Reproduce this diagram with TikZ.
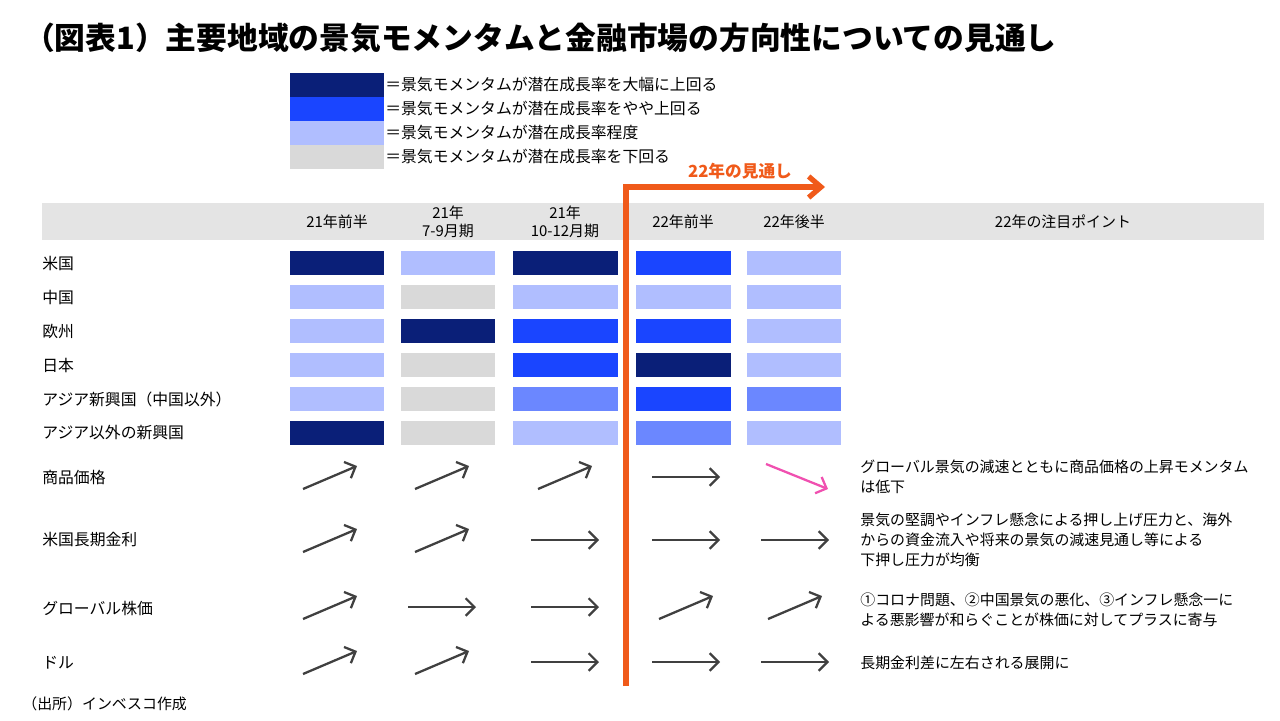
\documentclass[tikz,border=0pt]{standalone}
\usepackage{fontspec}
\setmainfont{Noto Sans CJK JP}
\usetikzlibrary{arrows.meta}
\definecolor{cdark}{HTML}{0A1F78}
\definecolor{cblue}{HTML}{1A45FF}
\definecolor{cmid}{HTML}{6B87FF}
\definecolor{clight}{HTML}{B0BEFF}
\definecolor{cgray}{HTML}{D9D9D9}
\definecolor{corange}{HTML}{F05A1A}
\definecolor{cpink}{HTML}{F050B0}
\definecolor{carrow}{HTML}{404040}
\tikzset{
  cell/.style={minimum height=0.48cm, inner sep=0pt},
  lab/.style={anchor=west, font=\fontsize{9}{11}\selectfont, inner sep=0pt},
  head/.style={align=center, font=\fontsize{8.5}{10}\selectfont},
  trend/.style={-{Straight Barb[length=5pt]}, line width=1.3pt, carrow}
}
\begin{document}
\begin{tikzpicture}[x=0.02cm, y=-0.02cm]
    \useasboundingbox (0,0) rectangle (1280,720);
    % Titolo
    \node[anchor=west, font=\fontsize{17.5}{20}\bfseries] (title) at (18,38) {（図表1）主要地域の景気モメンタムと金融市場の方向性についての見通し};

    % Legenda
    \foreach \c/\t [count=\i] in {cdark/大幅に上回る, cblue/やや上回る, clight/程度, cgray/下回る} {
        \node[cell, minimum width=1.88cm, fill=\c] (leg\i) at (337,61+24*\i) {};
    }
    \node[lab] (legt1) at (385,85) {＝景気モメンタムが潜在成長率を大幅に上回る};
    \node[lab] (legt2) at (385,109) {＝景気モメンタムが潜在成長率をやや上回る};
    \node[lab] (legt3) at (385,133) {＝景気モメンタムが潜在成長率程度};
    \node[lab] (legt4) at (385,157) {＝景気モメンタムが潜在成長率を下回る};

    % Intestazione
    \fill[cgray!70] (42,203) rectangle (1264,240);
    \node[head] (h1) at (337,222) {21年前半};
    \node[head] (h2) at (448,222) {21年\\7-9月期};
    \node[head] (h3) at (565,222) {21年\\10-12月期};
    \node[head] (h4) at (683,222) {22年前半};
    \node[head] (h5) at (794,222) {22年後半};
    \node[head] (h6) at (1063,222) {22年の注目ポイント};

    % Regioni
    \foreach \r/\t [count=\i] in {us/米国, cn/中国, eu/欧州, jp/日本, as/アジア新興国（中国以外）, em/アジア以外の新興国} {
        \node[lab] (row\r) at (42,229+34*\i) {\t};
    }
    \foreach \a/\b/\c/\d/\e [count=\i] in {
        cdark/clight/cdark/cblue/clight,
        clight/cgray/clight/clight/clight,
        clight/cdark/cblue/cblue/clight,
        clight/cgray/cblue/cdark/clight,
        clight/cgray/cmid/cblue/cmid,
        cdark/cgray/clight/cmid/clight} {
        \node[cell, minimum width=1.88cm, fill=\a] (c\i a) at (337,229+34*\i) {};
        \node[cell, minimum width=1.88cm, fill=\b] (c\i b) at (448,229+34*\i) {};
        \node[cell, minimum width=2.1cm, fill=\c] (c\i c) at (565,229+34*\i) {};
        \node[cell, minimum width=1.9cm, fill=\d] (c\i d) at (683,229+34*\i) {};
        \node[cell, minimum width=1.88cm, fill=\e] (c\i e) at (794,229+34*\i) {};
    }

    % Mercati
    \node[lab] (rowcom) at (42,477) {商品価格};
    \node[lab] (rowrate) at (42,540) {米国長期金利};
    \node[lab] (rowstock) at (42,608) {グローバル株価};
    \node[lab] (rowusd) at (42,663) {ドル};
    \foreach \y [count=\j] in {477,540,607,662} {
        \foreach \x [count=\i] in {330,442,565,686,795} {
            \coordinate (s\j\i) at (\x-27,\y+12);
            \coordinate (e\j\i) at (\x+27,\y-11);
            \coordinate (f\j\i) at (\x-34,\y);
            \coordinate (g\j\i) at (\x+34,\y);
        }
    }
    \foreach \j/\i in {1/1,1/2,1/3,2/1,2/2,3/1,3/4,3/5,4/1,4/2}
        \draw[trend] (s\j\i) -- (e\j\i);
    \foreach \j/\i in {1/4,2/3,2/4,2/5,3/2,3/3,4/3,4/4,4/5}
        \draw[trend] (f\j\i) -- (g\j\i);
    \coordinate (p1) at (766,464);
    \coordinate (p2) at (828,489);
    \draw[trend, cpink] (p1) -- (p2);

    % Note
    \node[lab, align=left, font=\fontsize{8.5}{11.5}\selectfont] (n1) at (860,477) {グローバル景気の減速とともに商品価格の上昇モメンタム\\は低下};
    \node[lab, align=left, font=\fontsize{8.5}{11.5}\selectfont] (n2) at (860,540) {景気の堅調やインフレ懸念による押し上げ圧力と、海外\\からの資金流入や将来の景気の減速見通し等による\\下押し圧力が均衡};
    \node[lab, align=left, font=\fontsize{8.5}{11.5}\selectfont] (n3) at (860,610) {①コロナ問題、②中国景気の悪化、③インフレ懸念一に\\よる悪影響が和らぐことが株価に対してプラスに寄与};
    \node[lab, font=\fontsize{8.5}{11.5}\selectfont] (n4) at (860,663) {長期金利差に左右される展開に};

    % Prospettiva 22
    \coordinate (obot) at (626,686);
    \coordinate (otop) at (626,187);
    \coordinate (oend) at (825,187);
    \draw[corange, line width=3pt, -{Straight Barb[length=7pt,width=12pt]}] (obot) -- (otop) -- (oend);
    \node[corange, font=\fontsize{9.5}{11}\bfseries] (olab) at (740,171) {22年の見通し};

    \node[lab, font=\fontsize{8.5}{10}\selectfont] (src) at (22,704) {（出所）インベスコ作成};
\end{tikzpicture}
\end{document}
